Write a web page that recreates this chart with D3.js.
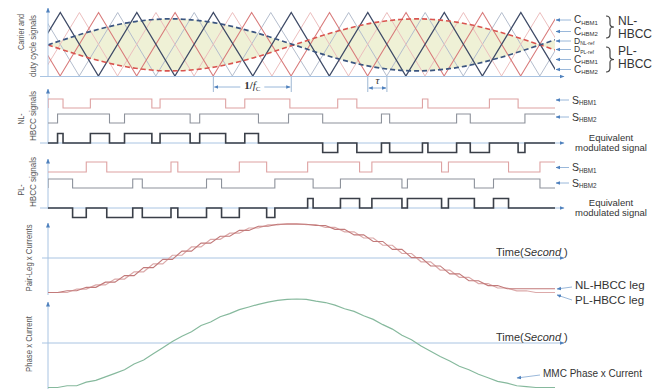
<!DOCTYPE html>
<html>
<head>
<meta charset="utf-8">
<script src="https://cdn.jsdelivr.net/npm/d3@7"></script>
<style>
  body { margin: 0; background: #fff; }
  svg { display: block; }
  text { font-family: 'Liberation Sans', Arial, sans-serif; fill: #333; }
</style>
</head>
<body>
<div id="chart"></div>
<script>
// time axis in degrees of the fundamental
const tMax = 371;
const carrierPeriod = 56.25;

// carrier peak positions (deg)
const cHbm1NL = [-19, 37, 93, 149, 206, 262, 318, 374];
const cHbm2NL = [23, 79, 135, 192, 248, 304, 360];
const cHbm1PL = [-5, 51, 107, 163, 220, 276, 332, 388];
const cHbm2PL = [9, 65, 121, 178, 234, 290, 346];

// duty cycle references (0..1 of carrier span)
const refAngle = [0, 30, 60, 90, 120, 150, 180, 210, 240, 270, 300, 330, 360, 371];
const dNLref = [0.49, 0.695, 0.845, 0.9, 0.845, 0.695, 0.49, 0.285, 0.135, 0.08, 0.135, 0.285, 0.49, 0.57];
const dPLref = [0.49, 0.285, 0.135, 0.08, 0.135, 0.285, 0.49, 0.695, 0.845, 0.9, 0.845, 0.695, 0.49, 0.41];

// switching signals, high intervals [on, off] in deg
const sHbm1NL = [[0, 11], [31, 76], [82, 130], [144, 177], [212, 226], [274, 278], [323, 344]];
const sHbm2NL = [[7, 45], [56, 104], [111, 154], [176, 201], [244, 250], [299, 309], [349, 371]];
const eqNLup = [[7, 11], [31, 45], [56, 76], [82, 104], [111, 130], [144, 154]];
const eqNLdown = [[201, 212], [226, 244], [250, 274], [278, 299], [309, 323], [344, 349]];

const sHbm1PL = [[28, 43], [90, 95], [140, 160], [190, 228], [237, 288], [293, 337], [360, 371]];
const sHbm2PL = [[0, 18], [62, 69], [116, 127], [166, 194], [214, 259], [263, 312], [326, 360]];
const eqPLdown = [[18, 28], [43, 62], [69, 90], [95, 116], [127, 140], [160, 166]];
const eqPLup = [[190, 194], [214, 228], [237, 259], [263, 288], [293, 312], [326, 337]];

// currents (per unit)
const legTime = [0, 7, 14, 21, 28, 35, 42, 49, 56, 63, 70, 77, 84, 91, 98, 105, 112, 119, 126, 133,
  140, 147, 154, 161, 168, 175, 182, 189, 196, 203, 210, 217, 224, 231, 238, 245, 252, 259, 266, 273,
  280, 287, 294, 301, 308, 315, 322, 329, 336, 343, 350, 357, 364, 371];
const nlLeg = [-1, -1, -0.95, -0.95, -0.85, -0.85, -0.7, -0.7, -0.51, -0.51, -0.28, -0.28, -0.04, -0.04,
  0.2, 0.2, 0.43, 0.43, 0.63, 0.63, 0.8, 0.8, 0.92, 0.92, 0.98, 0.98, 0.98, 0.98, 0.94, 0.94,
  0.83, 0.83, 0.67, 0.67, 0.48, 0.48, 0.25, 0.25, 0.01, 0.01, -0.23, -0.23, -0.46, -0.46,
  -0.66, -0.66, -0.8, -0.8, -0.89, -0.89, -0.89, -0.89, -0.89, -0.89];
const plLeg = [-1, -1, -1, -0.9, -0.9, -0.78, -0.78, -0.61, -0.61, -0.4, -0.4, -0.17, -0.17, 0.08,
  0.08, 0.32, 0.32, 0.54, 0.54, 0.72, 0.72, 0.87, 0.87, 0.96, 0.96, 1, 1, 0.97, 0.97, 0.89,
  0.89, 0.76, 0.76, 0.58, 0.58, 0.37, 0.37, 0.13, 0.13, -0.11, -0.11, -0.35, -0.35, -0.56,
  -0.56, -0.74, -0.74, -0.87, -0.87, -0.95, -0.95, -1, -1, -1];
const phaseCur = [-1, -1, -0.96, -0.96, -0.88, -0.84, -0.76, -0.68, -0.6, -0.47,
  -0.38, -0.24, -0.1, 0.04, 0.16, 0.26, 0.4, 0.48, 0.6, 0.67,
  0.76, 0.82, 0.88, 0.93, 0.97, 0.99, 1, 0.99, 0.95, 0.92,
  0.86, 0.78, 0.72, 0.62, 0.54, 0.42, 0.32, 0.18, 0.08, -0.06,
  -0.18, -0.3, -0.4, -0.52, -0.6, -0.7, -0.78, -0.86, -0.9, -0.96,
  -0.98, -1, -1, -1];

const W = 666, H = 389;
const svg = d3.select('#chart').append('svg').attr('width', W).attr('height', H);

const defs = svg.append('defs');
defs.append('clipPath').attr('id', 'plot')
  .append('rect').attr('x', 48).attr('y', 0).attr('width', 507).attr('height', H);
defs.append('marker').attr('id', 'arr')
  .attr('viewBox', '0 0 10 10').attr('refX', 9).attr('refY', 5)
  .attr('markerWidth', 5).attr('markerHeight', 5).attr('orient', 'auto')
  .append('path').attr('d', 'M0,1 L10,5 L0,9 Z').attr('fill', '#4f81bd');

const x = d3.scaleLinear().domain([0, tMax]).range([48, 555]);
const axisColor = '#a9c4e2';

function vAxis(y1, y2) {
  svg.append('line').attr('x1', 48).attr('x2', 48).attr('y1', y2).attr('y2', y1 - 1)
    .attr('stroke', axisColor).attr('stroke-width', 1).attr('marker-end', 'url(#arr)');
}
function hAxis(y, x1) {
  svg.append('line').attr('x1', x1).attr('x2', 564).attr('y1', y).attr('y2', y)
    .attr('stroke', axisColor).attr('stroke-width', 1).attr('marker-end', 'url(#arr)');
}
function pointer(x1, y1, x2, y2) {
  svg.append('line').attr('x1', x1).attr('y1', y1).attr('x2', x2).attr('y2', y2)
    .attr('stroke', '#8fb0d6').attr('stroke-width', 0.9).attr('marker-end', 'url(#arr)');
}
function subLabel(x0, y0, main, sub, size) {
  const t = svg.append('text').attr('x', x0).attr('y', y0).style('font-size', size + 'px');
  t.append('tspan').text(main);
  t.append('tspan').attr('dy', 1.5).style('font-size', (size * 0.6) + 'px').text(sub);
}
function sideLabel(cx, cy, txt, len, size) {
  svg.append('text')
    .attr('transform', `translate(${cx},${cy}) rotate(-90)`)
    .attr('text-anchor', 'middle').attr('dy', '0.35em')
    .attr('textLength', len).attr('lengthAdjust', 'spacingAndGlyphs')
    .style('font-size', size + 'px').style('fill', '#555').text(txt);
}

// ---------- panel 1: carriers and references ----------
const yC = d3.scaleLinear().domain([0, 1]).range([76, 12.5]);
const g1 = svg.append('g').attr('clip-path', 'url(#plot)');

const refPts = refAngle.map((a, i) => ({ t: a, nl: dNLref[i], pl: dPLref[i] }));
g1.append('path').datum(refPts)
  .attr('d', d3.area().curve(d3.curveCatmullRom)
    .x(d => x(d.t)).y0(d => yC(d.pl)).y1(d => yC(d.nl)))
  .attr('fill', '#edf0d2').attr('opacity', 0.9);

function carrierPoints(peaks) {
  const half = carrierPeriod / 2;
  const pts = [];
  peaks.forEach(p => pts.push([p - half, 0], [p, 1]));
  pts.push([peaks[peaks.length - 1] + half, 0]);
  return pts;
}
const cLine = d3.line().x(d => x(d[0])).y(d => yC(d[1]));
[[cHbm1PL, '#b4bdcd', 1], [cHbm2NL, '#ecbebe', 1], [cHbm1NL, '#d87a7a', 1.1], [cHbm2PL, '#3e4a66', 1.3]]
  .forEach(([peaks, col, w]) => {
    g1.append('path').attr('d', cLine(carrierPoints(peaks)))
      .attr('fill', 'none').attr('stroke', col).attr('stroke-width', w);
  });

const refLine = key => d3.line().curve(d3.curveCatmullRom).x(d => x(d.t)).y(d => yC(d[key]))(refPts);
g1.append('path').attr('d', refLine('pl')).attr('fill', 'none')
  .attr('stroke', '#d9544f').attr('stroke-width', 1.6).attr('stroke-dasharray', '5,3');
g1.append('path').attr('d', refLine('nl')).attr('fill', 'none')
  .attr('stroke', '#3b5580').attr('stroke-width', 1.7).attr('stroke-dasharray', '5,3');

vAxis(9, 77);
hAxis(76.5, 40);

// 1/fc and tau brackets
function bracket(t1, t2, yLine) {
  [t1, t2].forEach(t => svg.append('line').attr('x1', x(t)).attr('x2', x(t))
    .attr('y1', 77).attr('y2', 92).attr('stroke', '#9fb8d4').attr('stroke-width', 1));
  pointer((x(t1) + x(t2)) / 2, yLine, x(t1) + 1, yLine);
  pointer((x(t1) + x(t2)) / 2, yLine, x(t2) - 1, yLine);
}
bracket(cHbm2PL[2], cHbm2PL[3], 87);
const fcX = (x(cHbm2PL[2]) + x(cHbm2PL[3])) / 2;
svg.append('rect').attr('x', fcX - 12).attr('y', 79).attr('width', 24).attr('height', 12).attr('fill', '#fff');
const fcT = svg.append('text').attr('x', fcX).attr('y', 89).attr('text-anchor', 'middle')
  .style('font-family', "'Liberation Serif', serif").style('font-size', '11px').style('font-weight', 'bold');
fcT.append('tspan').text('1/');
fcT.append('tspan').style('font-style', 'italic').style('font-weight', 'normal').text('f');
fcT.append('tspan').attr('dy', 2).style('font-size', '7px').style('font-weight', 'normal').text('C');

bracket(cHbm2PL[4], cHbm2NL[4], 88);
svg.append('text').attr('x', (x(cHbm2PL[4]) + x(cHbm2NL[4])) / 2).attr('y', 84)
  .attr('text-anchor', 'middle').style('font-family', "'Liberation Serif', serif")
  .style('font-style', 'italic').style('font-size', '11px').text('τ');

// right labels of panel 1
const lab1 = [['C', 'HBM1', 20, 10], ['C', 'HBM2', 31.5, 10], ['D', 'NL-ref', 41, 8.5],
  ['D', 'PL-ref', 49.5, 8.5], ['C', 'HBM1', 59.5, 10], ['C', 'HBM2', 69.5, 10]];
lab1.forEach(([m, s, yy, fs]) => {
  pointer(571, yy, 556, yy);
  subLabel(574, yy + fs * 0.3, m, s, fs);
});
function brace(x0, y1, y2, w) {
  const ym = (y1 + y2) / 2, xm = x0 + w / 2;
  return `M${x0},${y1} Q${xm},${y1} ${xm},${y1 + 4} L${xm},${ym - 3} Q${xm},${ym} ${x0 + w},${ym}` +
    ` Q${xm},${ym} ${xm},${ym + 3} L${xm},${y2 - 4} Q${xm},${y2} ${x0},${y2}`;
}
svg.append('path').attr('d', brace(606, 16, 38, 8)).attr('fill', 'none').attr('stroke', '#444').attr('stroke-width', 1.2);
svg.append('path').attr('d', brace(606, 47, 72, 8)).attr('fill', 'none').attr('stroke', '#444').attr('stroke-width', 1.2);
[['NL-', 25], ['HBCC', 37.5], ['PL-', 55], ['HBCC', 67.5]].forEach(([t, yy]) => {
  svg.append('text').attr('x', 618).attr('y', yy).style('font-size', '12px').text(t);
});

// ---------- panels 2,3: switching signals ----------
function pulseLine(intervals, g, yScale, col, w) {
  const pts = [[0, 0]];
  intervals.forEach(([a, b, lv]) => {
    pts.push([a, 0], [a, lv], [b, lv]);
    if (b < tMax) pts.push([b, 0]);
  });
  if (intervals[intervals.length - 1][1] < tMax) pts.push([tMax, 0]);
  g.append('path').attr('d', d3.line().x(d => x(d[0])).y(d => yScale(d[1]))(pts))
    .attr('fill', 'none').attr('stroke', col).attr('stroke-width', w);
}
const lv = (arr, v) => arr.map(d => [d[0], d[1], v]);

vAxis(90, 144);
hAxis(143, 40);
vAxis(160, 209);
hAxis(208, 40);

const g2 = svg.append('g').attr('clip-path', 'url(#plot)');
pulseLine(lv(sHbm1NL, 1), g2, d3.scaleLinear().domain([0, 1]).range([108, 99]), '#dea2a2', 1.1);
pulseLine(lv(sHbm2NL, 1), g2, d3.scaleLinear().domain([0, 1]).range([123, 114]), '#8d929b', 1.1);
pulseLine(lv(eqNLup, 1).concat(lv(eqNLdown, -1)), g2,
  d3.scaleLinear().domain([-1, 1]).range([152.5, 133.5]), '#3a3f48', 1.6);

pulseLine(lv(sHbm1PL, 1), g2, d3.scaleLinear().domain([0, 1]).range([172, 162]), '#dea2a2', 1.1);
pulseLine(lv(sHbm2PL, 1), g2, d3.scaleLinear().domain([0, 1]).range([188, 179]), '#8d929b', 1.1);
pulseLine(lv(eqPLdown, -1).concat(lv(eqPLup, 1)), g2,
  d3.scaleLinear().domain([-1, 1]).range([217.5, 198.5]), '#3a3f48', 1.6);

[['HBM1', 100], ['HBM2', 117], ['HBM1', 167.5], ['HBM2', 183]].forEach(([s, yy]) => {
  pointer(569, yy, 556, yy);
  subLabel(572, yy + 3.5, 'S', s, 10.5);
});
[['Equivalent', 141], ['modulated signal', 150.5], ['Equivalent', 206], ['modulated signal', 215.5]].forEach(([t, yy]) => {
  svg.append('text').attr('x', 611).attr('y', yy).attr('text-anchor', 'middle')
    .style('font-size', '9.5px').text(t);
});

// ---------- panel 4: pair-leg currents ----------
const yLeg = d3.scaleLinear().domain([-1, 1]).range([292.5, 223.5]);
vAxis(224, 295);
hAxis(258, 42);
const g4 = svg.append('g').attr('clip-path', 'url(#plot)');
const legLine = (vals, ys) => d3.line().x((d, i) => x(legTime[i])).y(d => ys(d))(vals);
g4.append('path').attr('d', legLine(plLeg, yLeg)).attr('fill', 'none').attr('stroke', '#dcaaaa').attr('stroke-width', 1.2);
g4.append('path').attr('d', legLine(nlLeg, yLeg)).attr('fill', 'none').attr('stroke', '#c27a7a').attr('stroke-width', 1.1);

function timeLabel(yy) {
  const t = svg.append('text').attr('x', 496).attr('y', yy).style('font-size', '11px');
  t.append('tspan').text('Time(');
  t.append('tspan').style('font-style', 'italic').text('Second');
  t.append('tspan').text(' )');
}
timeLabel(256);
pointer(572, 287, 557, 289);
pointer(572, 300, 557, 295);
svg.append('text').attr('x', 575).attr('y', 289).style('font-size', '11.5px').text('NL-HBCC  leg');
svg.append('text').attr('x', 575).attr('y', 304).style('font-size', '11.5px').text('PL-HBCC  leg');

// ---------- panel 5: phase current ----------
const yPh = d3.scaleLinear().domain([-1, 1]).range([387.5, 299]);
vAxis(303, 389);
hAxis(343, 42);
const g5 = svg.append('g').attr('clip-path', 'url(#plot)');
g5.append('path').attr('d', legLine(phaseCur, yPh)).attr('fill', 'none').attr('stroke', '#86b99d').attr('stroke-width', 1.2);
timeLabel(341);
pointer(540, 375, 517, 378);
svg.append('text').attr('x', 543).attr('y', 377).style('font-size', '10px').text('MMC Phase x Current');

// ---------- left rotated labels ----------
sideLabel(21, 32, 'Carrier and', 36, 9);
sideLabel(33, 46, 'duty cycle signals', 62, 8.5);
sideLabel(21, 119, 'NL-', 11, 9);
sideLabel(33, 116, 'HBCC signals', 50, 9);
sideLabel(21, 190, 'PL-', 11, 9);
sideLabel(33, 182, 'HBCC signals', 50, 9);
sideLabel(29, 258, 'Pair-Leg x Currents', 67, 9);
sideLabel(29, 344, 'Phase x Current', 56, 9);
</script>
</body>
</html>
